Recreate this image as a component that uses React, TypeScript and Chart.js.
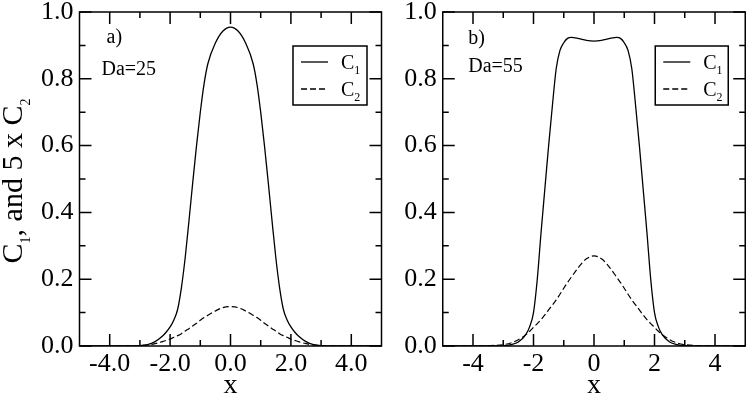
import React, { useEffect, useRef } from "react";
import { Chart, registerables } from "chart.js";

Chart.register(...registerables);

// ---------- data ----------
const X_A = [-5, -4, -3.5, -3, -2.75, -2.5, -2.25, -2.125, -2, -1.875, -1.75, -1.625, -1.5, -1.375, -1.25, -1.125, -1, -0.875, -0.75, -0.5, -0.25, 0, 0.25, 0.5, 0.75, 0.875, 1, 1.125, 1.25, 1.375, 1.5, 1.625, 1.75, 1.875, 2, 2.125, 2.25, 2.5, 2.75, 3, 3.5, 4, 5];
const C1_A = [0, 0, 0.0002, 0.001, 0.004, 0.013, 0.03, 0.042, 0.057, 0.078, 0.11, 0.175, 0.265, 0.375, 0.49, 0.6, 0.7, 0.785, 0.845, 0.907, 0.943, 0.955, 0.943, 0.907, 0.845, 0.785, 0.7, 0.6, 0.49, 0.375, 0.265, 0.175, 0.11, 0.078, 0.057, 0.042, 0.03, 0.013, 0.004, 0.001, 0.0002, 0, 0];
const C2_A = [0, 0.0001, 0.0004, 0.0015, 0.003, 0.007, 0.013, 0.017, 0.021, 0.026, 0.031, 0.037, 0.045, 0.052, 0.06, 0.068, 0.077, 0.085, 0.092, 0.105, 0.115, 0.118, 0.115, 0.105, 0.092, 0.085, 0.077, 0.068, 0.06, 0.052, 0.045, 0.037, 0.031, 0.026, 0.021, 0.017, 0.013, 0.007, 0.003, 0.0015, 0.0004, 0.0001, 0];

const X_B = [-5, -4, -3.5, -3, -2.75, -2.5, -2.25, -2.125, -2, -1.875, -1.75, -1.625, -1.5, -1.375, -1.25, -1.125, -1, -0.875, -0.75, -0.5, -0.25, 0, 0.25, 0.5, 0.75, 0.875, 1, 1.125, 1.25, 1.375, 1.5, 1.625, 1.75, 1.875, 2, 2.125, 2.25, 2.5, 2.75, 3, 3.5, 4, 5];
const C1_B = [0, 0, 0.0002, 0.001, 0.004, 0.012, 0.035, 0.058, 0.1, 0.2, 0.34, 0.47, 0.6, 0.72, 0.83, 0.885, 0.908, 0.921, 0.924, 0.92, 0.915, 0.913, 0.915, 0.92, 0.924, 0.921, 0.908, 0.885, 0.83, 0.72, 0.6, 0.47, 0.34, 0.2, 0.1, 0.058, 0.035, 0.012, 0.004, 0.001, 0.0002, 0, 0];
const C2_B = [0, 0.0003, 0.001, 0.004, 0.009, 0.019, 0.034, 0.044, 0.056, 0.067, 0.079, 0.093, 0.108, 0.123, 0.138, 0.155, 0.173, 0.19, 0.206, 0.237, 0.261, 0.27, 0.261, 0.237, 0.206, 0.19, 0.173, 0.155, 0.138, 0.123, 0.108, 0.093, 0.079, 0.067, 0.056, 0.044, 0.034, 0.019, 0.009, 0.004, 0.001, 0.0003, 0];

const X_TICKS = [-4, -2, 0, 2, 4];
const X_MINOR = [-3, -1, 1, 3];
const Y_TICKS = [0, 0.2, 0.4, 0.6, 0.8, 1.0];
const Y_MINOR = [0.1, 0.3, 0.5, 0.7, 0.9];

const SERIES_NAMES = ["C", "C"];
const SERIES_SUBS = ["1", "2"];
const Y_TITLE_PARTS: [string, boolean][] = [["C", false], ["1", true], [", and 5 x C", false], ["2", true]];
const X_TITLE = "x";

const FONT = "'Liberation Serif', 'Times New Roman', serif";

function drawParts(ctx: CanvasRenderingContext2D, parts: [string, boolean][], x: number, y: number, size: number, subSize: number, drop: number, measureOnly = false) {
  let cx = x;
  for (const [t, sub] of parts) {
    ctx.font = `${sub ? subSize : size}px ${FONT}`;
    if (!measureOnly) ctx.fillText(t, cx, sub ? y + drop : y);
    cx += ctx.measureText(t).width;
  }
  return cx - x;
}

const framePlugin = {
  id: "frame",
  afterDraw(chart: any, _args: any, o: any) {
    const { ctx, chartArea, scales } = chart;
    const { left, right, top, bottom } = chartArea;
    const xs = scales.x, ys = scales.y;
    ctx.save();
    ctx.strokeStyle = "#000";
    ctx.fillStyle = "#000";
    ctx.lineWidth = 1.5;
    ctx.beginPath();
    const tickX = (vals: number[], len: number) => {
      for (const v of vals) {
        const p = xs.getPixelForValue(v);
        ctx.moveTo(p, bottom); ctx.lineTo(p, bottom - len);
        ctx.moveTo(p, top); ctx.lineTo(p, top + len);
      }
    };
    const tickY = (vals: number[], len: number) => {
      for (const v of vals) {
        const p = ys.getPixelForValue(v);
        ctx.moveTo(left, p); ctx.lineTo(left + len, p);
        ctx.moveTo(right, p); ctx.lineTo(right - len, p);
      }
    };
    tickX(X_TICKS, 12); tickX(X_MINOR, 6);
    tickY(Y_TICKS, 12); tickY(Y_MINOR, 6);
    ctx.stroke();
    ctx.strokeRect(left, top, right - left, bottom - top);

    // annotations
    ctx.textAlign = "left";
    ctx.textBaseline = "alphabetic";
    ctx.font = `20px ${FONT}`;
    ctx.fillText(o.tag, left + o.tagDx, o.tagY);
    ctx.fillText(o.da, left + o.daDx, o.daY);

    // legend
    const bx = right - o.legRight - o.legW;
    ctx.lineWidth = 1.5;
    ctx.strokeRect(bx, 46, o.legW, 59);
    ctx.lineWidth = 1.3;
    const rows = [62, 89];
    rows.forEach((ry, i) => {
      ctx.beginPath();
      ctx.setLineDash(i === 0 ? [] : [6, 3]);
      ctx.moveTo(bx + 8, ry); ctx.lineTo(bx + 35, ry);
      ctx.stroke();
      ctx.setLineDash([]);
      drawParts(ctx, [[SERIES_NAMES[i], false], [SERIES_SUBS[i], true]], bx + 48, ry + 6.5, 20, 12, 5);
    });

    // x title
    ctx.textAlign = "center";
    ctx.font = `28px ${FONT}`;
    ctx.fillText(X_TITLE, (left + right) / 2, 393);

    // y title
    if (o.yTitle) {
      ctx.textAlign = "left";
      const w = drawParts(ctx, Y_TITLE_PARTS, 0, 0, 30, 14, 8, true);
      ctx.translate(22, (top + bottom) / 2 + 2);
      ctx.rotate(-Math.PI / 2);
      drawParts(ctx, Y_TITLE_PARTS, -w / 2, 0, 30, 14, 8);
    }
    ctx.restore();
  },
};

type PanelCfg = {
  left: number; w: number; xs: number[]; c1: number[]; c2: number[];
  yWidth: number; padRight: number; fmtX: (v: number) => string;
  frame: any;
};

function makeConfig(p: PanelCfg): any {
  const tickFont = { family: FONT, size: 26 };
  return {
    type: "line",
    data: {
      datasets: [
        { data: p.xs.map((x, i) => ({ x, y: p.c1[i] })), borderColor: "#000", borderWidth: 1.3, pointRadius: 0, cubicInterpolationMode: "monotone", fill: false },
        { data: p.xs.map((x, i) => ({ x, y: p.c2[i] })), borderColor: "#000", borderWidth: 1.2, borderDash: [6, 3], pointRadius: 0, cubicInterpolationMode: "monotone", fill: false },
      ],
    },
    options: {
      animation: false,
      responsive: false,
      maintainAspectRatio: false,
      layout: { padding: { top: 12, right: p.padRight, left: 0, bottom: 0 } },
      plugins: { legend: { display: false }, tooltip: { enabled: false }, frame: p.frame },
      scales: {
        x: {
          type: "linear", min: -5, max: 5,
          afterBuildTicks: (s: any) => { s.ticks = X_TICKS.map((v) => ({ value: v })); },
          afterFit: (s: any) => { s.height = 48; s.paddingLeft = 0; s.paddingRight = 0; s.paddingTop = 0; s.paddingBottom = 0; },
          grid: { display: false, drawTicks: false },
          border: { display: false },
          ticks: { font: tickFont, color: "#000", padding: 3, maxRotation: 0, autoSkip: false, callback: (v: number) => p.fmtX(v) },
        },
        y: {
          type: "linear", min: 0, max: 1,
          afterBuildTicks: (s: any) => { s.ticks = Y_TICKS.map((v) => ({ value: v })); },
          afterFit: (s: any) => { s.width = p.yWidth; s.paddingLeft = 0; s.paddingRight = 0; s.paddingTop = 0; s.paddingBottom = 0; },
          grid: { display: false, drawTicks: false },
          border: { display: false },
          ticks: { font: tickFont, color: "#000", padding: 6, autoSkip: false, callback: (v: number) => v.toFixed(1) },
        },
      },
    },
    plugins: [framePlugin],
  };
}

function Panel({ cfg }: { cfg: PanelCfg }) {
  const ref = useRef<HTMLCanvasElement | null>(null);
  useEffect(() => {
    const chart = new Chart(ref.current as HTMLCanvasElement, makeConfig(cfg));
    return () => chart.destroy();
  }, []);
  return (
    <canvas
      ref={ref}
      width={cfg.w}
      height={394}
      style={{ position: "absolute", left: cfg.left, top: 0, width: cfg.w, height: 394, display: "block" }}
    />
  );
}

const PANEL_A: PanelCfg = {
  left: 0, w: 383, xs: X_A, c1: C1_A, c2: C2_A, yWidth: 79.5, padRight: 1.5,
  fmtX: (v) => v.toFixed(1),
  frame: { tag: "a)", tagDx: 27, tagY: 43, da: "Da=25", daDx: 22, daY: 75, legRight: 14.5, legW: 74, yTitle: true },
};
const PANEL_B: PanelCfg = {
  left: 383, w: 364, xs: X_B, c1: C1_B, c2: C2_B, yWidth: 59.75, padRight: 1.75,
  fmtX: (v) => String(v),
  frame: { tag: "b)", tagDx: 25.5, tagY: 44, da: "Da=55", daDx: 25.5, daY: 72, legRight: 17, legW: 73, yTitle: false },
};

export default function App() {
  return (
    <div style={{ position: "fixed", left: 0, top: 0, width: 747, height: 394, background: "#fff", overflow: "hidden" }}>
      <Panel cfg={PANEL_A} />
      <Panel cfg={PANEL_B} />
    </div>
  );
}
